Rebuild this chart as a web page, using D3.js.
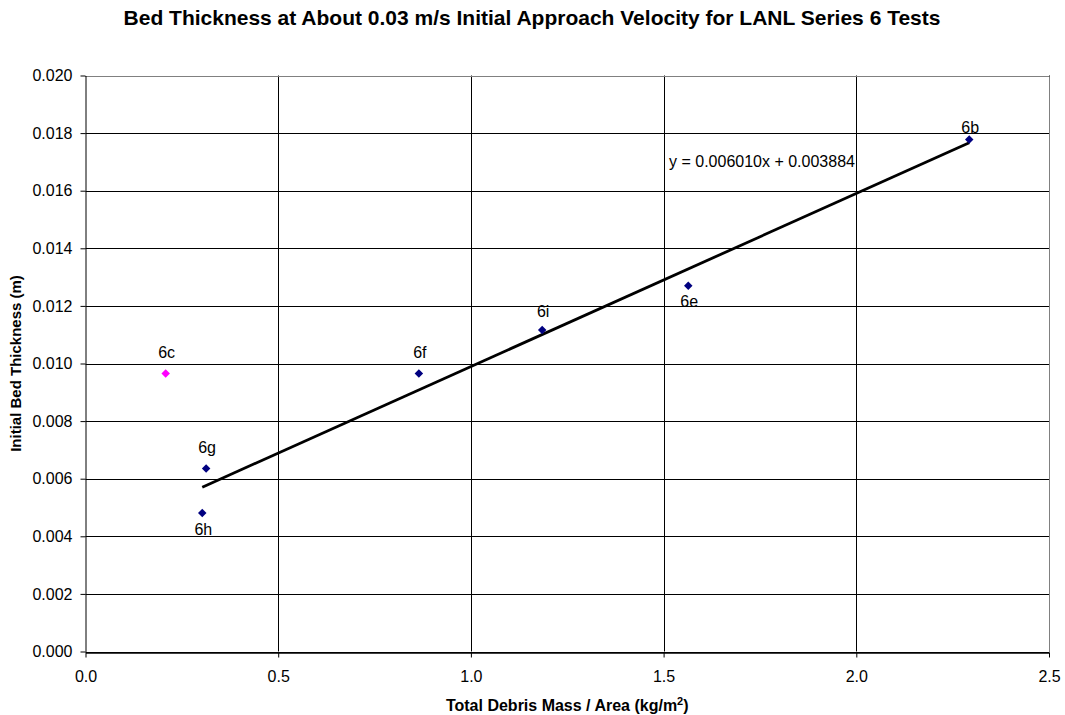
<!DOCTYPE html>
<html lang="en">
<head>
<meta charset="UTF-8">
<title>Bed Thickness</title>
<style>
    * { margin: 0; padding: 0; }
    body { background: #fff; }
    text { font-family: "Liberation Sans", Arial, sans-serif; fill: #000; }
</style>
</head>
<body>
<div id="chart"></div>
<script src="https://cdn.jsdelivr.net/npm/d3@7/dist/d3.min.js"></script>
<script>
"use strict";

// tests in the fitted series
var labels = ["6b", "6e", "6f", "6g", "6h", "6i"];
var mass = [2.293, 1.564, 0.865, 0.313, 0.303, 1.185];
var thickness = [0.01778, 0.01270, 0.00965, 0.00635, 0.00481, 0.01116];
var labelPos = ["above", "below", "above", "above", "below", "above"];

// test 6c, plotted separately
var outLabels = ["6c"];
var outMass = [0.208];
var outThickness = [0.00965];

// linear trendline
var slope = 0.006010, intercept = 0.003884;

var xTicks = [0, 0.5, 1.0, 1.5, 2.0, 2.5];
var yTicks = d3.range(0, 0.0201, 0.002);

(function () {
    var width = 1065, height = 715,
        margin = { top: 75.5, right: 16, bottom: 63.5, left: 85.5 };

    var fs = '16px';

    // label placement (baseline offset from the marker), a few hand nudges
    var labelDy = { above: -16, below: 22 };
    var nudge = { '6b': 10, '6i': 3, '6e': -1 };

    var svg = d3.select('#chart')
        .append('svg')
        .attr('width', width)
        .attr('height', height);

    var x = d3.scaleLinear().domain([0, 2.5]).range([margin.left, width - margin.right]);
    var y = d3.scaleLinear().domain([0, 0.02]).range([height - margin.bottom, margin.top]);

    // horizontal gridlines
    svg.append('g')
        .selectAll('line')
        .data(yTicks)
        .enter()
        .append('line')
        .attr('x1', x(0)).attr('x2', x(2.5))
        .attr('y1', function (d) { return Math.round(y(d)) + 0.5; })
        .attr('y2', function (d) { return Math.round(y(d)) + 0.5; })
        .attr('stroke', '#000')
        .attr('stroke-width', 1);

    // vertical gridlines
    svg.append('g')
        .selectAll('line')
        .data(xTicks.slice(1))
        .enter()
        .append('line')
        .attr('y1', y(0)).attr('y2', y(0.02))
        .attr('x1', function (d) { return Math.round(x(d)) + 0.5; })
        .attr('x2', function (d) { return Math.round(x(d)) + 0.5; })
        .attr('stroke', '#000')
        .attr('stroke-width', 1);

    // plot border (top / right grey)
    svg.append('path')
        .attr('d', 'M' + x(0) + ',' + (Math.round(y(0.02)) + 0.5) + 'H' + (Math.round(x(2.5)) + 0.5) + 'V' + y(0))
        .attr('fill', 'none')
        .attr('stroke', '#808080');

    // axes
    var yAxis = d3.axisLeft(y)
        .tickValues(yTicks)
        .tickFormat(d3.format('.3f'))
        .tickSizeInner(5).tickSizeOuter(0).tickPadding(8);

    var xAxis = d3.axisBottom(x)
        .tickValues(xTicks)
        .tickFormat(d3.format('.1f'))
        .tickSizeInner(5).tickSizeOuter(0).tickPadding(13);

    var gy = svg.append('g')
        .attr('transform', 'translate(' + x(0) + ',0)')
        .call(yAxis);

    var gx = svg.append('g')
        .attr('transform', 'translate(0,' + (Math.round(y(0)) + 0.5) + ')')
        .call(xAxis);

    [gx, gy].forEach(function (g) {
        g.selectAll('path, line').attr('stroke', '#000');
        g.selectAll('text')
            .style('font-family', '"Liberation Sans", Arial, sans-serif')
            .style('font-size', fs)
            .attr('fill', '#000');
    });
    gx.select('.domain').attr('stroke-width', 1.5);

    // trendline over the fitted range
    var x0 = d3.min(mass), x1 = d3.max(mass);
    svg.append('line')
        .attr('x1', x(x0)).attr('y1', y(slope * x0 + intercept))
        .attr('x2', x(x1)).attr('y2', y(slope * x1 + intercept))
        .attr('stroke', '#000')
        .attr('stroke-width', 2.8);

    var diamond = d3.symbol().type(d3.symbolDiamond2).size(46);

    // fitted points
    svg.append('g')
        .selectAll('path')
        .data(d3.range(mass.length))
        .enter()
        .append('path')
        .attr('d', diamond)
        .attr('transform', function (i) { return 'translate(' + x(mass[i]) + ',' + y(thickness[i]) + ')'; })
        .attr('fill', '#000080');

    svg.append('g')
        .selectAll('text')
        .data(d3.range(mass.length))
        .enter()
        .append('text')
        .attr('x', function (i) { return x(mass[i]) + 1; })
        .attr('y', function (i) { return y(thickness[i]) + labelDy[labelPos[i]] + (nudge[labels[i]] || 0); })
        .attr('text-anchor', 'middle')
        .style('font-size', fs)
        .text(function (i) { return labels[i]; });

    // 6c point
    svg.append('g')
        .selectAll('path')
        .data(d3.range(outMass.length))
        .enter()
        .append('path')
        .attr('d', diamond)
        .attr('transform', function (i) { return 'translate(' + x(outMass[i]) + ',' + y(outThickness[i]) + ')'; })
        .attr('fill', '#ff00ff');

    svg.append('g')
        .selectAll('text')
        .data(d3.range(outMass.length))
        .enter()
        .append('text')
        .attr('x', function (i) { return x(outMass[i]) + 1; })
        .attr('y', function (i) { return y(outThickness[i]) + labelDy.above; })
        .attr('text-anchor', 'middle')
        .style('font-size', fs)
        .text(function (i) { return outLabels[i]; });

    // trendline equation
    svg.append('text')
        .attr('x', 669)
        .attr('y', 166.5)
        .style('font-size', fs)
        .text('y = ' + slope.toFixed(6) + 'x + ' + intercept.toFixed(6));

    // title
    svg.append('text')
        .attr('x', 532)
        .attr('y', 25)
        .attr('text-anchor', 'middle')
        .style('font-size', '21px')
        .style('font-weight', 'bold')
        .text('Bed Thickness at About 0.03 m/s Initial Approach Velocity for LANL Series 6 Tests');

    // axis titles
    var xt = svg.append('text')
        .attr('x', x(1.25))
        .attr('y', 711)
        .attr('text-anchor', 'middle')
        .style('font-size', fs)
        .style('font-weight', 'bold');
    xt.append('tspan').text('Total Debris Mass / Area (kg/m');
    xt.append('tspan').attr('dy', -6).style('font-size', '11px').text('2');
    xt.append('tspan').attr('dy', 6).text(')');

    svg.append('text')
        .attr('transform', 'translate(21,' + ((y(0) + y(0.02)) / 2) + ') rotate(-90)')
        .attr('text-anchor', 'middle')
        .style('font-size', '15px')
        .style('font-weight', 'bold')
        .text('Initial Bed Thickness (m)');
})();
</script>
</body>
</html>
